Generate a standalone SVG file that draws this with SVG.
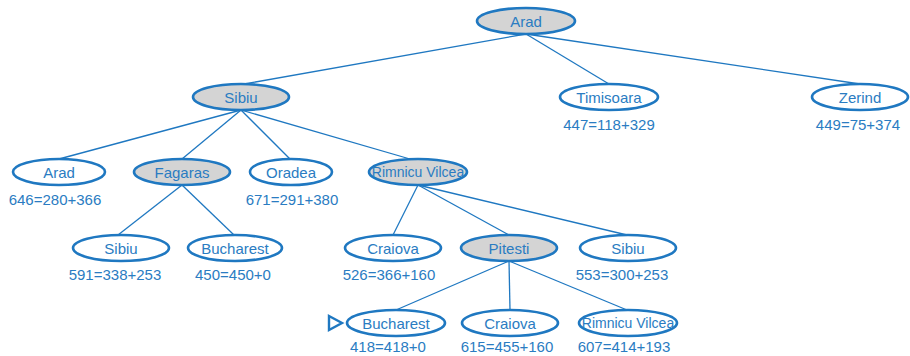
<svg xmlns="http://www.w3.org/2000/svg" width="910" height="356" viewBox="0 0 910 356">
  <defs>
    <style>
      .node ellipse { stroke: #1f78c1; stroke-width: 2.6; fill: #ffffff; }
      .node.expanded ellipse { fill: #d4d4d4; }
      .node text { font-family: "Liberation Sans", Arial, sans-serif; font-size: 15px; fill: #2a7cc2; text-anchor: middle; }
      .node text.small { font-size: 14px; }
      .cost { font-family: "Liberation Sans", Arial, sans-serif; font-size: 15px; fill: #2a7cc2; text-anchor: middle; }
      .edges line { stroke: #1f78c1; stroke-width: 1.3; }
      .goal { fill: none; stroke: #1f78c1; stroke-width: 2.4; }
    </style>
  </defs>
  <rect width="910" height="356" fill="#ffffff"/>

  <!-- tree edges -->
  <g class="edges">
    <line x1="526" y1="34" x2="244" y2="84"/>
    <line x1="526" y1="34" x2="609" y2="84"/>
    <line x1="526" y1="34" x2="860" y2="84"/>
    <line x1="241" y1="110" x2="59" y2="159"/>
    <line x1="241" y1="110" x2="182" y2="159"/>
    <line x1="241" y1="110" x2="290" y2="159"/>
    <line x1="241" y1="110" x2="410" y2="159"/>
    <line x1="182" y1="185" x2="118" y2="235"/>
    <line x1="182" y1="185" x2="234" y2="235"/>
    <line x1="418" y1="185" x2="393" y2="235"/>
    <line x1="418" y1="185" x2="509" y2="235"/>
    <line x1="418" y1="185" x2="627" y2="235"/>
    <line x1="509" y1="261" x2="396" y2="310"/>
    <line x1="509" y1="261" x2="510" y2="310"/>
    <line x1="509" y1="261" x2="627" y2="310"/>
  </g>

  <!-- level 0 -->
  <g id="n-arad" class="node expanded">
    <ellipse cx="526" cy="21" rx="49" ry="13"/>
    <text x="526" y="27">Arad</text>
  </g>

  <!-- level 1 -->
  <g id="n-sibiu" class="node expanded">
    <ellipse cx="241" cy="97" rx="48" ry="13"/>
    <text x="241" y="103">Sibiu</text>
  </g>
  <g id="n-timisoara" class="node">
    <ellipse cx="609" cy="97" rx="49" ry="13"/>
    <text x="609" y="103">Timisoara</text>
  </g>
  <text class="cost" x="609" y="130">447=118+329</text>
  <g id="n-zerind" class="node">
    <ellipse cx="860" cy="97" rx="48" ry="13"/>
    <text x="860" y="103">Zerind</text>
  </g>
  <text class="cost" x="858" y="130">449=75+374</text>

  <!-- level 2 -->
  <g id="n-arad2" class="node">
    <ellipse cx="59" cy="172" rx="46" ry="13"/>
    <text x="59" y="178">Arad</text>
  </g>
  <text class="cost" x="55" y="205">646=280+366</text>
  <g id="n-fagaras" class="node expanded">
    <ellipse cx="182" cy="172" rx="48" ry="13"/>
    <text x="182" y="178">Fagaras</text>
  </g>
  <g id="n-oradea" class="node">
    <ellipse cx="291" cy="172" rx="41" ry="13"/>
    <text x="291" y="178">Oradea</text>
  </g>
  <text class="cost" x="292" y="205">671=291+380</text>
  <g id="n-rimnicu" class="node expanded">
    <ellipse cx="418" cy="172" rx="49" ry="13"/>
    <text class="small" x="418" y="177">Rimnicu Vilcea</text>
  </g>

  <!-- level 3 -->
  <g id="n-sibiu3" class="node">
    <ellipse cx="121" cy="248" rx="48" ry="13"/>
    <text x="121" y="254">Sibiu</text>
  </g>
  <text class="cost" x="115" y="280">591=338+253</text>
  <g id="n-bucharest3" class="node">
    <ellipse cx="235" cy="248" rx="47" ry="13"/>
    <text x="235" y="254">Bucharest</text>
  </g>
  <text class="cost" x="233" y="280">450=450+0</text>
  <g id="n-craiova3" class="node">
    <ellipse cx="393" cy="248" rx="48" ry="13"/>
    <text x="393" y="254">Craiova</text>
  </g>
  <text class="cost" x="389" y="280">526=366+160</text>
  <g id="n-pitesti" class="node expanded">
    <ellipse cx="509" cy="248" rx="48" ry="13"/>
    <text x="509" y="254">Pitesti</text>
  </g>
  <g id="n-sibiu3b" class="node">
    <ellipse cx="628" cy="248" rx="48" ry="13"/>
    <text x="628" y="254">Sibiu</text>
  </g>
  <text class="cost" x="622" y="280">553=300+253</text>

  <!-- level 4 -->
  <g id="n-bucharest4" class="node">
    <ellipse cx="396" cy="323" rx="49" ry="13"/>
    <text x="396" y="329">Bucharest</text>
  </g>
  <polygon class="goal" points="329,316 342,323 329,330"/>
  <text class="cost" x="388" y="352">418=418+0</text>
  <g id="n-craiova4" class="node">
    <ellipse cx="510" cy="323" rx="48" ry="13"/>
    <text x="510" y="329">Craiova</text>
  </g>
  <text class="cost" x="507" y="352">615=455+160</text>
  <g id="n-rimnicu4" class="node">
    <ellipse cx="628" cy="323" rx="49" ry="13"/>
    <text class="small" x="628" y="328">Rimnicu Vilcea</text>
  </g>
  <text class="cost" x="624" y="352">607=414+193</text>
</svg>
